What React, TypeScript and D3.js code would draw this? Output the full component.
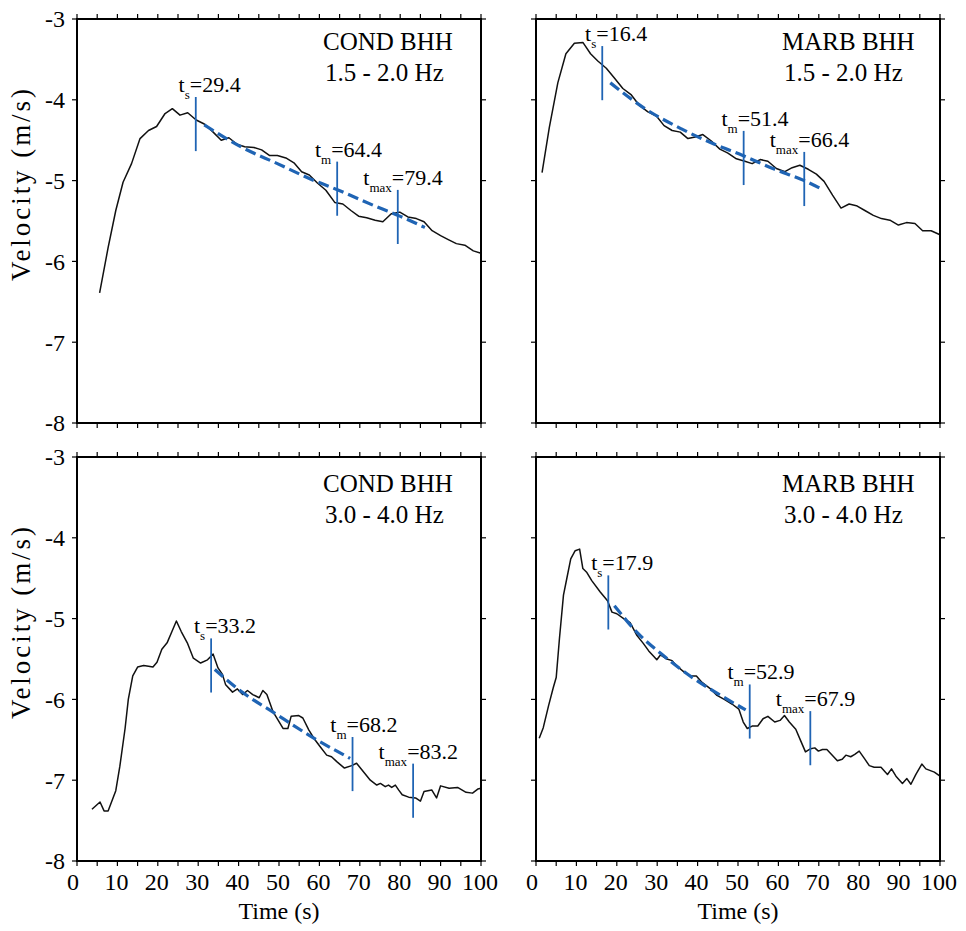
import React from "react";
import * as d3 from "d3";

// ---------- data ----------
const xTicks = [0, 10, 20, 30, 40, 50, 60, 70, 80, 90, 100];
const yTicks = [-3, -4, -5, -6, -7, -8];

// Top-left: COND BHH 1.5 - 2.0 Hz
const condLowT = [5.6, 7.7, 9.6, 11.4, 13.5, 15.6, 17.7, 19.7, 21.8, 23.6, 25.5, 27.4, 29.5, 31.5, 33.7, 35.7, 37.6, 39.6, 41.5, 43.8, 45.7, 47.7, 49.6, 51.7, 53.7, 55.6, 57.5, 59.5, 61.6, 63.8, 65.8, 67.8, 69.7, 71.7, 73.8, 75.7, 77.8, 79.9, 81.9, 84.0, 85.9, 87.9, 90.0, 91.9, 93.9, 96.0, 98.1, 100];
const condLowV = [-6.39, -5.83, -5.37, -5.02, -4.79, -4.48, -4.38, -4.33, -4.17, -4.11, -4.19, -4.16, -4.25, -4.30, -4.40, -4.50, -4.47, -4.55, -4.58, -4.59, -4.62, -4.69, -4.69, -4.72, -4.78, -4.89, -4.93, -5.03, -5.12, -5.27, -5.29, -5.37, -5.44, -5.46, -5.49, -5.51, -5.41, -5.39, -5.45, -5.47, -5.51, -5.62, -5.68, -5.73, -5.78, -5.80, -5.87, -5.90];
const condLowFitT = [31.5, 40.5, 49.6, 58.7, 64.3, 74.5, 79.9, 86.1];
const condLowFitV = [-4.31, -4.58, -4.79, -5.0, -5.11, -5.33, -5.44, -5.58];
const condLowMarkT = [29.4, 64.4, 79.4];
const condLowMarkV = [-4.3, -5.1, -5.45];

// Top-right: MARB BHH 1.5 - 2.0 Hz
const marbLowT = [1.5, 3.3, 5.4, 7.4, 9.5, 11.6, 13.5, 15.3, 17.4, 19.4, 21.5, 23.6, 25.6, 27.7, 29.8, 31.7, 33.7, 35.7, 37.6, 39.4, 41.3, 43.4, 45.5, 47.5, 49.6, 51.7, 53.5, 55.5, 57.4, 59.5, 61.6, 63.4, 65.3, 67.4, 69.4, 71.3, 73.4, 75.5, 77.5, 79.3, 81.4, 83.5, 85.5, 87.6, 89.7, 91.7, 93.8, 95.7, 97.8, 100];
const marbLowV = [-4.9, -4.34, -3.79, -3.43, -3.3, -3.29, -3.43, -3.52, -3.61, -3.73, -3.86, -3.94, -4.07, -4.15, -4.2, -4.32, -4.38, -4.4, -4.48, -4.46, -4.43, -4.51, -4.61, -4.66, -4.73, -4.76, -4.79, -4.74, -4.76, -4.85, -4.89, -4.84, -4.81, -4.86, -4.92, -5.01, -5.18, -5.34, -5.29, -5.31, -5.37, -5.43, -5.47, -5.49, -5.55, -5.52, -5.53, -5.62, -5.62, -5.67];
const marbLowFitT = [18.4, 27.3, 36.0, 44.2, 51.2, 59.1, 66.4, 70.5];
const marbLowFitV = [-3.79, -4.12, -4.36, -4.55, -4.69, -4.86, -5.0, -5.1];
const marbLowMarkT = [16.4, 51.4, 66.4];
const marbLowMarkV = [-3.67, -4.72, -4.98];

// Bottom-left: COND BHH 3.0 - 4.0 Hz
const condHighT = [3.7, 5.7, 6.7, 7.7, 9.6, 10.6, 11.9, 12.7, 13.8, 15.0, 16.5, 17.7, 18.8, 19.8, 21.0, 22.3, 23.5, 24.6, 25.8, 27.3, 28.8, 30.6, 32.3, 33.7, 34.9, 36.0, 36.8, 38.5, 39.7, 41.0, 42.2, 43.5, 45.1, 46.0, 47.0, 48.5, 49.7, 51.0, 52.2, 53.0, 54.9, 55.9, 57.4, 58.9, 60.1, 61.8, 63.0, 64.3, 66.2, 68.0, 69.2, 70.5, 72.6, 74.2, 75.1, 76.3, 77.1, 77.9, 78.8, 79.6, 80.5, 82.1, 83.8, 85.0, 85.9, 87.8, 89.0, 90.0, 92.1, 94.2, 96.3, 97.9, 99.2, 100];
const condHighV = [-7.36, -7.27, -7.38, -7.38, -7.13, -6.83, -6.36, -6.0, -5.71, -5.6, -5.58, -5.59, -5.6, -5.54, -5.38, -5.3, -5.16, -5.03, -5.16, -5.3, -5.49, -5.55, -5.51, -5.44, -5.61, -5.69, -5.82, -5.91, -5.87, -5.94, -5.89, -5.94, -5.98, -5.89, -5.94, -6.15, -6.25, -6.36, -6.36, -6.21, -6.2, -6.23, -6.38, -6.5, -6.58, -6.69, -6.71, -6.77, -6.85, -6.82, -6.79, -6.87, -7.0, -7.06, -7.04, -7.08, -7.06, -7.09, -7.06, -7.12, -7.18, -7.21, -7.22, -7.26, -7.14, -7.12, -7.22, -7.07, -7.1, -7.09, -7.15, -7.16, -7.11, -7.1];
const condHighFitT = [34.1, 40.6, 48.9, 58.0, 67.6];
const condHighFitV = [-5.63, -5.9, -6.17, -6.46, -6.73];
const condHighMarkT = [33.2, 68.2, 83.2];
const condHighMarkV = [-5.58, -6.8, -7.13];

// Bottom-right: MARB BHH 3.0 - 4.0 Hz
const marbHighT = [0.8, 1.8, 3.1, 4.3, 5.0, 5.8, 6.8, 7.6, 8.6, 9.7, 10.8, 11.6, 12.6, 13.8, 15.9, 17.7, 18.8, 20.0, 21.7, 23.3, 25.0, 26.6, 27.9, 29.0, 29.9, 30.8, 32.4, 33.7, 34.7, 36.6, 38.2, 39.7, 41.1, 43.2, 44.8, 46.6, 48.6, 50.2, 51.3, 52.3, 53.5, 54.9, 56.2, 57.4, 59.1, 60.4, 61.5, 62.7, 64.3, 65.5, 66.7, 68.0, 69.0, 69.9, 70.9, 72.0, 73.1, 74.6, 75.8, 76.7, 77.9, 78.9, 80.0, 81.4, 82.5, 83.7, 85.4, 87.0, 88.0, 89.1, 90.7, 91.8, 92.8, 94.0, 95.5, 96.5, 98.6, 100];
const marbHighV = [-6.48, -6.35, -6.08, -5.85, -5.73, -5.25, -4.71, -4.51, -4.26, -4.16, -4.14, -4.38, -4.43, -4.53, -4.67, -4.78, -4.92, -4.94, -5.0, -5.05, -5.21, -5.31, -5.4, -5.46, -5.51, -5.45, -5.5, -5.52, -5.58, -5.66, -5.71, -5.71, -5.79, -5.87, -5.95, -6.0, -6.06, -6.12, -6.28, -6.36, -6.33, -6.33, -6.24, -6.21, -6.28, -6.26, -6.2, -6.28, -6.37, -6.51, -6.65, -6.61, -6.6, -6.64, -6.62, -6.62, -6.68, -6.76, -6.74, -6.69, -6.71, -6.68, -6.64, -6.74, -6.82, -6.84, -6.84, -6.93, -6.86, -6.95, -7.04, -6.98, -7.05, -6.93, -6.8, -6.86, -6.9, -6.95];
const marbHighFitT = [19.4, 25.0, 31.6, 39.0, 45.7, 51.9];
const marbHighFitV = [-4.84, -5.17, -5.46, -5.74, -5.95, -6.13];
const marbHighMarkT = [17.9, 52.9, 67.9];
const marbHighMarkV = [-4.8, -6.15, -6.48];

const markSubs = ["s", "m", "max"];

// ---------- layout ----------
const PW = 404;
const PH = 404;
const BLUE = "#1f64b4";

type PanelDef = {
  left: number; top: number; station: string; band: string;
  t: number[]; v: number[]; fitT: number[]; fitV: number[];
  markT: number[]; markV: number[];
  showY: boolean; showX: boolean; titleDy: number;
};

const panels: PanelDef[] = [
  { left: 77, top: 19, station: "COND BHH", band: "1.5 - 2.0 Hz", t: condLowT, v: condLowV, fitT: condLowFitT, fitV: condLowFitV, markT: condLowMarkT, markV: condLowMarkV, showY: true, showX: false, titleDy: 31 },
  { left: 536, top: 19, station: "MARB BHH", band: "1.5 - 2.0 Hz", t: marbLowT, v: marbLowV, fitT: marbLowFitT, fitV: marbLowFitV, markT: marbLowMarkT, markV: marbLowMarkV, showY: false, showX: false, titleDy: 31 },
  { left: 77, top: 457, station: "COND BHH", band: "3.0 - 4.0 Hz", t: condHighT, v: condHighV, fitT: condHighFitT, fitV: condHighFitV, markT: condHighMarkT, markV: condHighMarkV, showY: true, showX: true, titleDy: 35 },
  { left: 536, top: 457, station: "MARB BHH", band: "3.0 - 4.0 Hz", t: marbHighT, v: marbHighV, fitT: marbHighFitT, fitV: marbHighFitV, markT: marbHighMarkT, markV: marbHighMarkV, showY: false, showX: true, titleDy: 35 },
];

const FONT = "'Liberation Serif', 'Times New Roman', serif";

function Panel({ p }: { p: PanelDef }) {
  const x = d3.scaleLinear().domain([0, 100]).range([0, PW]);
  const y = d3.scaleLinear().domain([-3, -8]).range([0, PH]);
  const line = d3.line<number>().x((_, i) => x(p.t[i])).y((d) => y(d));
  const fitLine = d3.line<number>().x((_, i) => x(p.fitT[i])).y((d) => y(d)).curve(d3.curveMonotoneX);
  const minorX = d3.range(0, 101, 5);
  const TL = 5;
  const half = 0.335;
  return (
    <g transform={`translate(${p.left},${p.top})`}>
      {/* ticks */}
      {minorX.map((t) => (
        <g key={"xt" + t}>
          <line x1={x(t)} x2={x(t)} y1={0} y2={-TL} stroke="#000" strokeWidth={1.2} />
          <line x1={x(t)} x2={x(t)} y1={PH} y2={PH + TL} stroke="#000" strokeWidth={1.2} />
        </g>
      ))}
      {yTicks.map((v) => (
        <g key={"yt" + v}>
          <line x1={0} x2={-TL} y1={y(v)} y2={y(v)} stroke="#000" strokeWidth={1.2} />
          <line x1={PW} x2={PW + TL} y1={y(v)} y2={y(v)} stroke="#000" strokeWidth={1.2} />
        </g>
      ))}
      {p.showY && yTicks.map((v) => (
        <text key={"yl" + v} x={-12} y={y(v)} dy="0.35em" textAnchor="end" fontSize={24} fontFamily={FONT}>{v}</text>
      ))}
      {p.showX && xTicks.map((t) => (
        <text key={"xl" + t} x={x(t)} dx={t === 0 ? -4 : -1} y={PH + 29} textAnchor="middle" fontSize={24} fontFamily={FONT}>{t}</text>
      ))}
      {/* data */}
      <path d={line(p.v) || ""} fill="none" stroke="#111" strokeWidth={1.5} strokeLinejoin="round" />
      <path d={fitLine(p.fitV) || ""} fill="none" stroke={BLUE} strokeWidth={3.2} strokeDasharray="11 5" />
      {p.markT.map((t, i) => {
        const mx = x(t);
        const yTop = y(p.markV[i] + half);
        const yBot = y(p.markV[i] - half);
        return (
          <g key={"m" + i}>
            <line x1={mx} x2={mx} y1={yTop} y2={yBot} stroke={BLUE} strokeWidth={1.8} />
            <text x={mx - 6} y={yTop - 5} textAnchor="end" fontSize={22} fontFamily={FONT}>
              t<tspan fontSize={13} dy={7}>{markSubs[i]}</tspan>
            </text>
            <text x={mx - 6} y={yTop - 5} fontSize={22} fontFamily={FONT}>{"=" + t.toFixed(1)}</text>
          </g>
        );
      })}
      {/* title */}
      <text x={246} y={p.titleDy} fontSize={25} fontFamily={FONT}>{p.station}</text>
      <text x={248} y={p.titleDy + 31} fontSize={25} fontFamily={FONT}>{p.band}</text>
      {/* frame */}
      <rect x={0} y={0} width={PW} height={PH} fill="none" stroke="#000" strokeWidth={2} />
      {p.showY && (
        <text transform={`translate(-47,${PH / 2 - 36}) rotate(-90)`} textAnchor="middle" fontSize={27} fontFamily={FONT} textLength={192} lengthAdjust="spacing">Velocity (m/s)</text>
      )}
      {p.showX && (
        <text x={PW / 2} y={PH + 58} textAnchor="middle" fontSize={24} fontFamily={FONT}>Time (s)</text>
      )}
    </g>
  );
}

export default function App() {
  return (
    <svg width={966} height={931} style={{ position: "absolute", left: 0, top: 0, background: "#fff" }}>
      <rect width={966} height={931} fill="#fff" />
      {panels.map((p, i) => <Panel key={i} p={p} />)}
    </svg>
  );
}
